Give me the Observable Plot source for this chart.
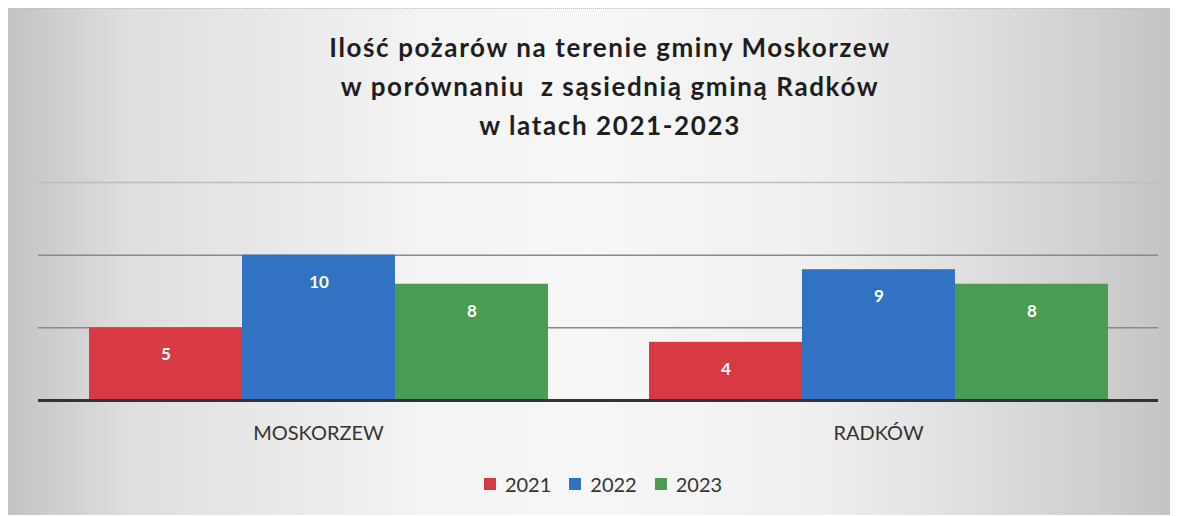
<!DOCTYPE html>
<html>
<head>
<meta charset="utf-8">
<script src="https://cdn.jsdelivr.net/npm/d3@7"></script>
<script src="https://cdn.jsdelivr.net/npm/@observablehq/plot@0.6"></script>
<style>
  html, body { margin: 0; padding: 0; background: #ffffff; }
  #wrap { position: relative; width: 1177px; height: 516px; overflow: hidden; background: #fff; font-family: Lato, "Open Sans", sans-serif; }
  #bg { position: absolute; left: 8px; top: 8px; width: 1162px; height: 506px;
        background: linear-gradient(90deg, #c3c3c3 0%, #dedede 10%, #f3f3f3 35%, #f7f7f7 50%, #efefef 70%, #d8d8d8 88%, #c4c4c4 100%);
        border-top: 1px dotted #bbb; }
  #title { position: absolute; left: 0; top: 28px; width: 1220px; text-align: center; font-weight: bold; font-size: 26px; letter-spacing: 1.6px; line-height: 39px; color: #1e1e1e; }
  #chart { position: absolute; left: 0; top: 160px; }
  #legend { position: absolute; left: 0; width: 1206px; top: 472px; display: flex; justify-content: center; gap: 18px; font-size: 20px; color: #333; }
  .item { display: flex; align-items: center; gap: 9px; }
  .sw { width: 12px; height: 12px; display: inline-block; }
</style>
</head>
<body>
<div id="wrap">
  <div id="bg"></div>
  <div id="title"></div>
  <div id="chart"></div>
  <div id="legend"></div>
</div>
<script>
const titleLines = ["Ilość pożarów na terenie gminy Moskorzew", "w porównaniu  z sąsiednią gminą Radków", "w latach 2021-2023"];
const categories = ["MOSKORZEW", "RADKÓW"];
const years = ["2021", "2022", "2023"];
const moskorzew = [5, 10, 8];
const radkow = [4, 9, 8];
const yearColors = ["#d83a44", "#3272c2", "#4b9c53"];
const gridTicks = [5, 10];
const topGridTick = [15];

const seriesByCategory = [moskorzew, radkow];
const data = [];
categories.forEach((c, i) => years.forEach((y, j) => data.push({category: c, year: y, value: seriesByCategory[i][j]})));

document.getElementById("title").innerHTML = titleLines.map(t => t.replace(/  /g, " &nbsp;")).join("<br>");

const plot = Plot.plot({
  width: 1177,
  height: 300,
  marginLeft: 38,
  marginRight: 19,
  marginTop: 22,
  marginBottom: 60,
  style: {background: "transparent", color: "#333", fontFamily: "Lato, 'Open Sans', sans-serif"},
  fx: {domain: categories, padding: 0, label: null},
  x: {domain: years, paddingInner: 0, paddingOuter: 0.32, axis: null},
  y: {domain: [0, 15], axis: null},
  color: {domain: years, range: yearColors},
  marks: [
    Plot.ruleY(topGridTick, {stroke: "#bdbdbd", strokeWidth: 1.5}),
    Plot.ruleY(gridTicks, {stroke: "#8a8a8a", strokeWidth: 1.5}),
    Plot.barY(data, {fx: "category", x: "year", y: "value", fill: "year", inset: 0}),
    Plot.text(data, {fx: "category", x: "year", y: "value", text: d => String(d.value), dy: 27, fill: "white", fontWeight: "bold", fontSize: 17}),
    Plot.ruleY([0], {stroke: "#333", strokeWidth: 3}),
    Plot.axisFx({anchor: "bottom", tickSize: 0, tickPadding: 25, fontSize: 20, label: null})
  ]
});
document.getElementById("chart").appendChild(plot);

const legend = document.getElementById("legend");
years.forEach((y, i) => {
  const it = document.createElement("div");
  it.className = "item";
  it.innerHTML = `<span class="sw" style="background:${yearColors[i]}"></span><span>${y}</span>`;
  legend.appendChild(it);
});
</script>
</body>
</html>
